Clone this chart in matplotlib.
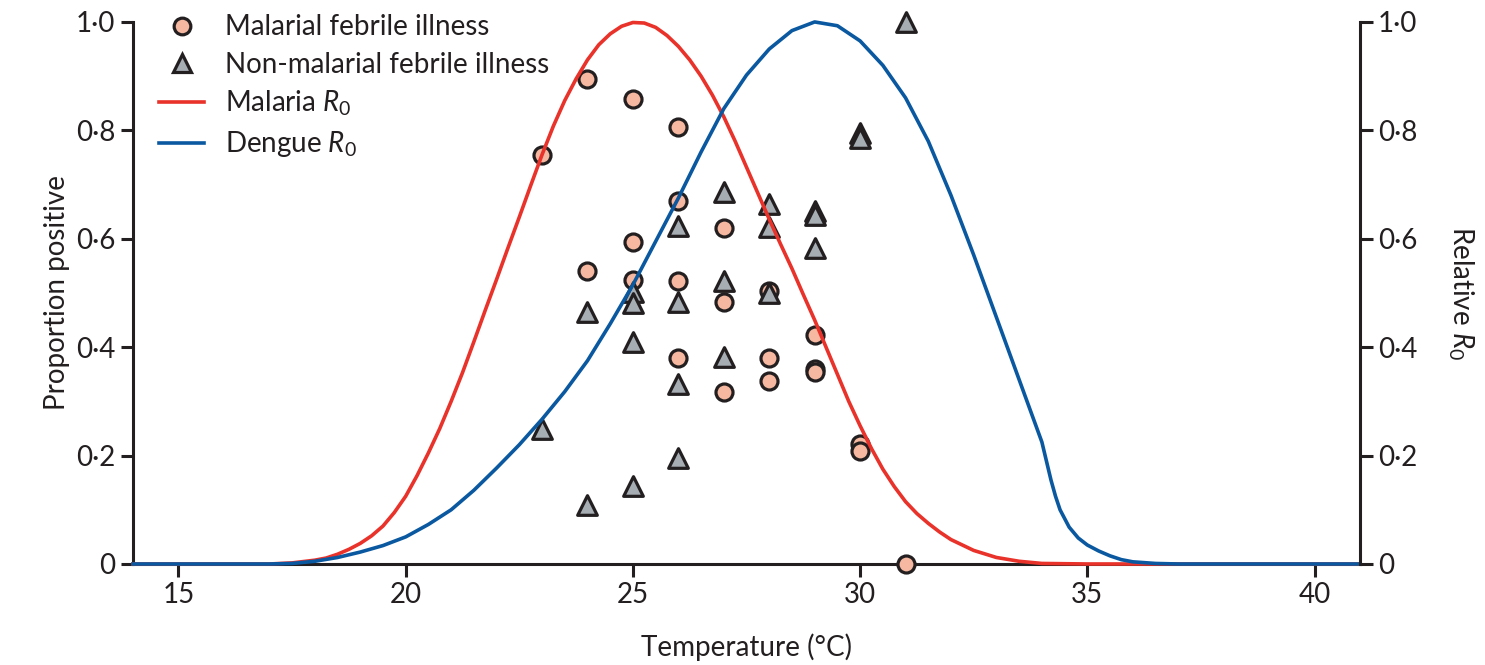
import numpy as np
import matplotlib
matplotlib.use("Agg")
import matplotlib.pyplot as plt
from matplotlib.lines import Line2D

plt.rcParams['font.family'] = ['Lato', 'DejaVu Sans']
plt.rcParams['mathtext.fontset'] = 'custom'
plt.rcParams['mathtext.rm'] = 'Lato'
plt.rcParams['mathtext.it'] = 'Lato:italic'

# observed proportions positive by mean temperature
mal_temp = [23, 24, 25, 26, 25, 24, 25, 26, 26, 26, 27, 27, 27, 28, 28, 28, 29, 29, 29, 30, 30, 31]
mal_prop = [0.755, 0.895, 0.858, 0.806, 0.594, 0.541, 0.524, 0.670, 0.522, 0.380, 0.620, 0.483,
            0.317, 0.504, 0.380, 0.338, 0.423, 0.360, 0.355, 0.221, 0.208, 0.0]

non_temp = [23, 24, 24, 25, 25, 25, 25, 26, 26, 26, 26, 27, 27, 27, 28, 28, 28, 29, 29, 29, 30, 30, 31]
non_prop = [0.249, 0.465, 0.109, 0.502, 0.481, 0.410, 0.144, 0.624, 0.483, 0.332, 0.196, 0.686,
            0.522, 0.382, 0.664, 0.622, 0.500, 0.651, 0.644, 0.583, 0.795, 0.786, 1.0]

# relative R0 curves
mal_r0_t = [14, 16, 17, 17.5, 18, 18.25, 18.5, 18.75, 19, 19.25, 19.5, 19.75, 20, 20.25, 20.5,
            20.75, 21, 21.25, 21.5, 21.75, 22, 22.25, 22.5, 22.75, 23, 23.25, 23.5, 23.75, 24,
            24.25, 24.5, 24.75, 25, 25.25, 25.5, 25.75, 26, 26.25, 26.5, 26.75, 27, 27.25, 27.5,
            27.75, 28, 28.25, 28.5, 28.75, 29, 29.25, 29.5, 29.75, 30, 30.25, 30.5, 30.75, 31,
            31.25, 31.5, 31.75, 32, 32.5, 33, 33.5, 34, 35, 41]
mal_r0 = [0, 0, 0, 0.002, 0.007, 0.011, 0.018, 0.027, 0.038, 0.052, 0.07, 0.095, 0.125, 0.163,
          0.205, 0.25, 0.30, 0.353, 0.41, 0.468, 0.525, 0.583, 0.64, 0.698, 0.755, 0.808, 0.855,
          0.895, 0.93, 0.958, 0.978, 0.992, 0.999, 0.998, 0.99, 0.975, 0.955, 0.93, 0.9, 0.865,
          0.825, 0.78, 0.732, 0.684, 0.636, 0.59, 0.545, 0.497, 0.45, 0.40, 0.35, 0.30, 0.255,
          0.213, 0.175, 0.143, 0.115, 0.093, 0.075, 0.059, 0.045, 0.025, 0.012, 0.005, 0.001,
          0, 0]

den_r0_t = [14, 17, 17.5, 18, 18.5, 19, 19.5, 20, 20.5, 21, 21.5, 22, 22.5, 23, 23.5, 24, 24.5,
            25, 25.5, 26, 26.5, 27, 27.5, 28, 28.5, 29, 29.5, 30, 30.5, 31, 31.5, 32, 32.5, 33,
            33.5, 34, 34.1, 34.2, 34.3, 34.4, 34.6, 34.8, 35, 35.25, 35.5, 35.75, 36, 36.5, 37, 41]
den_r0 = [0, 0, 0.001, 0.005, 0.012, 0.022, 0.034, 0.05, 0.073, 0.10, 0.136, 0.177, 0.22, 0.267,
          0.318, 0.375, 0.443, 0.515, 0.595, 0.675, 0.76, 0.84, 0.902, 0.95, 0.984, 1.0, 0.993,
          0.965, 0.92, 0.86, 0.78, 0.68, 0.57, 0.455, 0.34, 0.225, 0.19, 0.155, 0.125, 0.10,
          0.068, 0.048, 0.035, 0.024, 0.015, 0.008, 0.004, 0.001, 0, 0]

xticks = [15, 20, 25, 30, 35, 40]
yticks = [0, 0.2, 0.4, 0.6, 0.8, 1.0]
ylabels = ['0', '0\u00b72', '0\u00b74', '0\u00b76', '0\u00b78', '1\u00b70']

red = '#E8322A'
blue = '#0A58A0'
peach = '#F6B8A0'
grey = '#A6ADB3'
ink = '#231F20'
fs = 20

fig = plt.figure(figsize=(14.85, 6.65), dpi=100)
ax = fig.add_axes([0.0896, 0.1519, 0.8262, 0.8151])
ax2 = ax.twinx()

ax.scatter(mal_temp, mal_prop, s=150, marker='o', facecolor=peach, edgecolor=ink, linewidths=2.3,
           zorder=3, clip_on=False)
ax.scatter(non_temp, non_prop, s=200, marker='^', facecolor=grey, edgecolor=ink, linewidths=2.3,
           zorder=3, clip_on=False)

ax2.plot(mal_r0_t, mal_r0, color=red, lw=2.6, clip_on=False, solid_joinstyle='round')
ax2.plot(den_r0_t, den_r0, color=blue, lw=2.6, clip_on=False, solid_joinstyle='round')

for a in (ax, ax2):
    a.set_xlim(14, 41)
    a.set_ylim(0, 1)
    a.set_yticks(yticks)
    a.set_yticklabels(ylabels)
    a.spines['top'].set_visible(False)
    for s in a.spines.values():
        s.set_linewidth(2.2)
        s.set_color(ink)
    a.tick_params(direction='out', length=9, width=2.2, color=ink, labelsize=fs, pad=4,
                  labelcolor=ink)

ax.spines['right'].set_visible(False)
ax2.spines['left'].set_visible(False)
ax2.spines['bottom'].set_visible(False)
ax.set_xticks(xticks)
ax.set_xticklabels([str(t) for t in xticks])

ax.set_xlabel('Temperature (\u00b0C)', fontsize=fs, color=ink, labelpad=18)
ax.set_ylabel('Proportion positive', fontsize=fs, color=ink, labelpad=4)
ax2.set_ylabel('Relative $\\mathit{R}_0$', fontsize=fs, color=ink, rotation=270, labelpad=42)

handles = [
    Line2D([], [], ls='none', marker='o', markersize=12, markerfacecolor=peach,
           markeredgecolor=ink, markeredgewidth=2.3),
    Line2D([], [], ls='none', marker='^', markersize=13, markerfacecolor=grey,
           markeredgecolor=ink, markeredgewidth=2.3),
    Line2D([], [], color=red, lw=2.6),
    Line2D([], [], color=blue, lw=2.6),
]
labels = ['Malarial febrile illness', 'Non-malarial febrile illness',
          'Malaria $\\mathit{R}_0$', 'Dengue $\\mathit{R}_0$']
ax2.legend(handles, labels, loc='upper left', bbox_to_anchor=(0.001, 1.06), frameon=False,
           fontsize=fs, handlelength=1.6, handletextpad=0.75, labelspacing=0.4,
           labelcolor=ink)

fig.savefig('out.png', dpi=100)
